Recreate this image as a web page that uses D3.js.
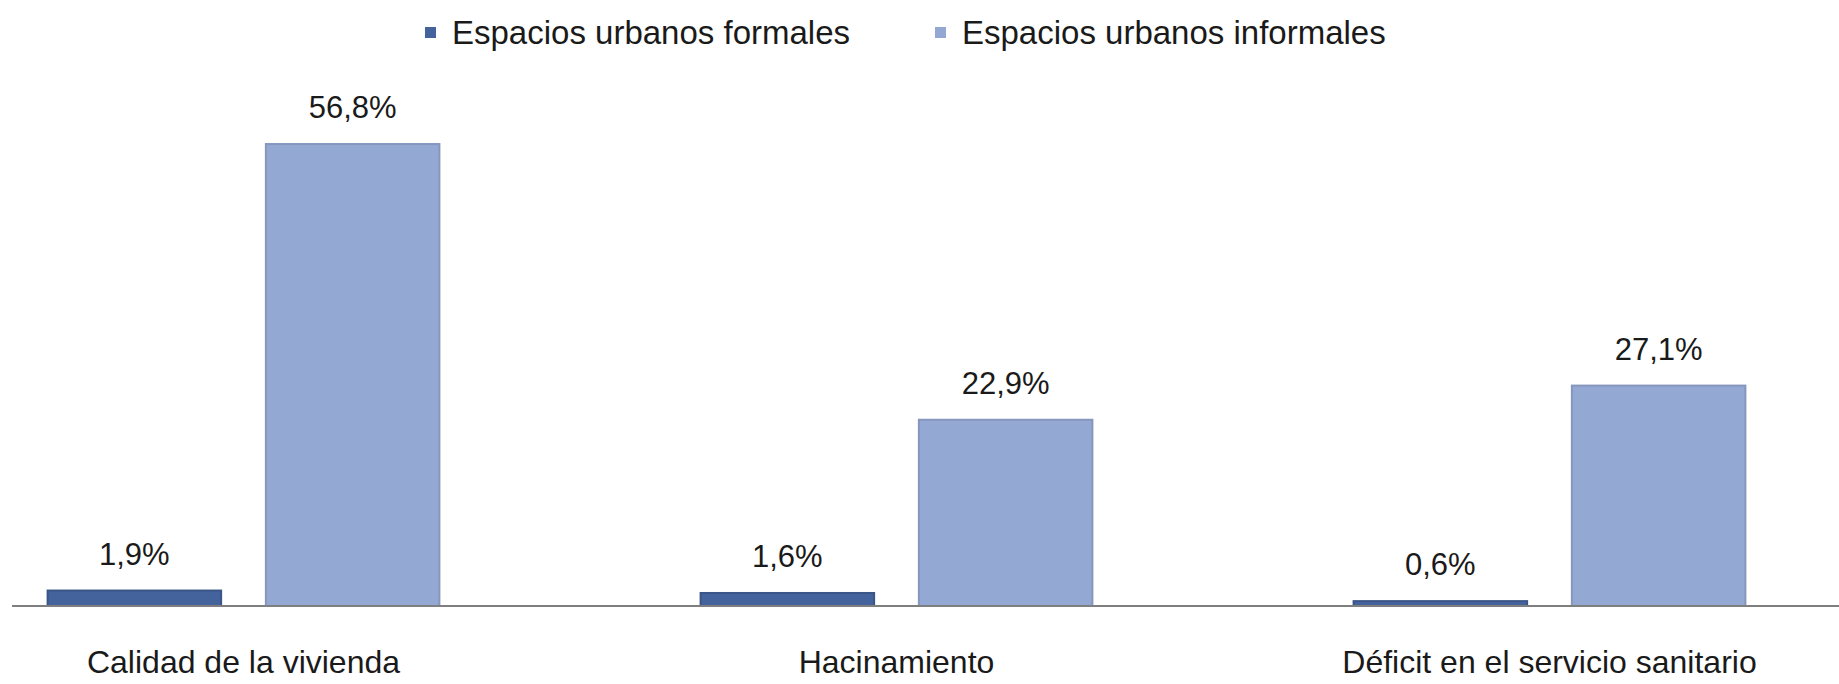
<!DOCTYPE html>
<html>
<head>
<meta charset="utf-8">
<script src="https://cdn.jsdelivr.net/npm/d3@7"></script>
<style>
  body { margin: 0; background: #fff; }
  svg { display: block; }
</style>
</head>
<body>
<svg id="chart"></svg>
<script>
var categories = ['Calidad de la vivienda', 'Hacinamiento', 'Déficit en el servicio sanitario'];
var series = ['Espacios urbanos formales', 'Espacios urbanos informales'];
var formal_values = [1.9, 1.6, 0.6];
var informal_values = [56.8, 22.9, 27.1];
var value_labels = [['1,9%', '56,8%'], ['1,6%', '22,9%'], ['0,6%', '27,1%']];

var w = 1839;
var h = 684;
var colors = ['#44639d', '#93a8d3'];
var strokes = ['#3b5588', '#8796bd'];
var font = "'Liberation Sans', Arial, sans-serif";

var svg = d3.select('#chart').attr('width', w).attr('height', h);

// the plot is wider than the picture, left and right groups get cut a little
var x0 = d3.scaleBand().domain(categories).range([-83, 1876]).paddingInner(0.4).paddingOuter(0.2);
var x1 = d3.scaleBand().domain(series).range([0, x0.bandwidth()]).paddingInner(0.205);
var y = d3.scaleLinear().domain([0, 60]).range([606, 118]);

var rows = categories.map(function(c, i) {
	return [
		{cat: c, s: series[0], v: formal_values[i], label: value_labels[i][0], k: 0},
		{cat: c, s: series[1], v: informal_values[i], label: value_labels[i][1], k: 1}
	];
});
var flat = d3.merge(rows);

svg.selectAll('rect.bar')
	.data(flat)
	.join('rect')
	.attr('class', 'bar')
	.attr('x', function(d) { return x0(d.cat) + x1(d.s); })
	.attr('y', function(d) { return y(d.v); })
	.attr('width', x1.bandwidth())
	.attr('height', function(d) { return y(0) - y(d.v); })
	.attr('fill', function(d) { return colors[d.k]; })
	.attr('stroke', function(d) { return strokes[d.k]; })
	.attr('stroke-width', 2);

svg.append('line')
	.attr('x1', 12).attr('x2', w)
	.attr('y1', y(0)).attr('y2', y(0))
	.attr('stroke', '#7f7f7f')
	.attr('stroke-width', 2);

svg.selectAll('text.val')
	.data(flat)
	.join('text')
	.attr('class', 'val')
	.attr('x', function(d) { return x0(d.cat) + x1(d.s) + x1.bandwidth() / 2; })
	.attr('y', function(d) { return y(d.v) - 26; })
	.attr('text-anchor', 'middle')
	.attr('font-family', font)
	.attr('font-size', '31px')
	.attr('fill', '#1a1a1a')
	.text(function(d) { return d.label; });

svg.selectAll('text.cat')
	.data(categories)
	.join('text')
	.attr('class', 'cat')
	.attr('x', function(d) { return x0(d) + x0.bandwidth() / 2; })
	.attr('y', 673)
	.attr('text-anchor', 'middle')
	.attr('font-family', font)
	.attr('font-size', '32px')
	.attr('fill', '#1a1a1a')
	.text(function(d) { return d; });

// legend
var legend_x = [425, 935];
var lg = svg.selectAll('g.legend')
	.data(series)
	.join('g')
	.attr('class', 'legend')
	.attr('transform', function(d, i) { return 'translate(' + legend_x[i] + ',0)'; });
lg.append('rect')
	.attr('x', 0).attr('y', 27)
	.attr('width', 11).attr('height', 11)
	.attr('fill', function(d, i) { return colors[i]; });
lg.append('text')
	.attr('x', 27).attr('y', 44)
	.attr('font-family', font)
	.attr('font-size', '33px')
	.attr('fill', '#1a1a1a')
	.text(function(d) { return d; });
</script>
</body>
</html>
